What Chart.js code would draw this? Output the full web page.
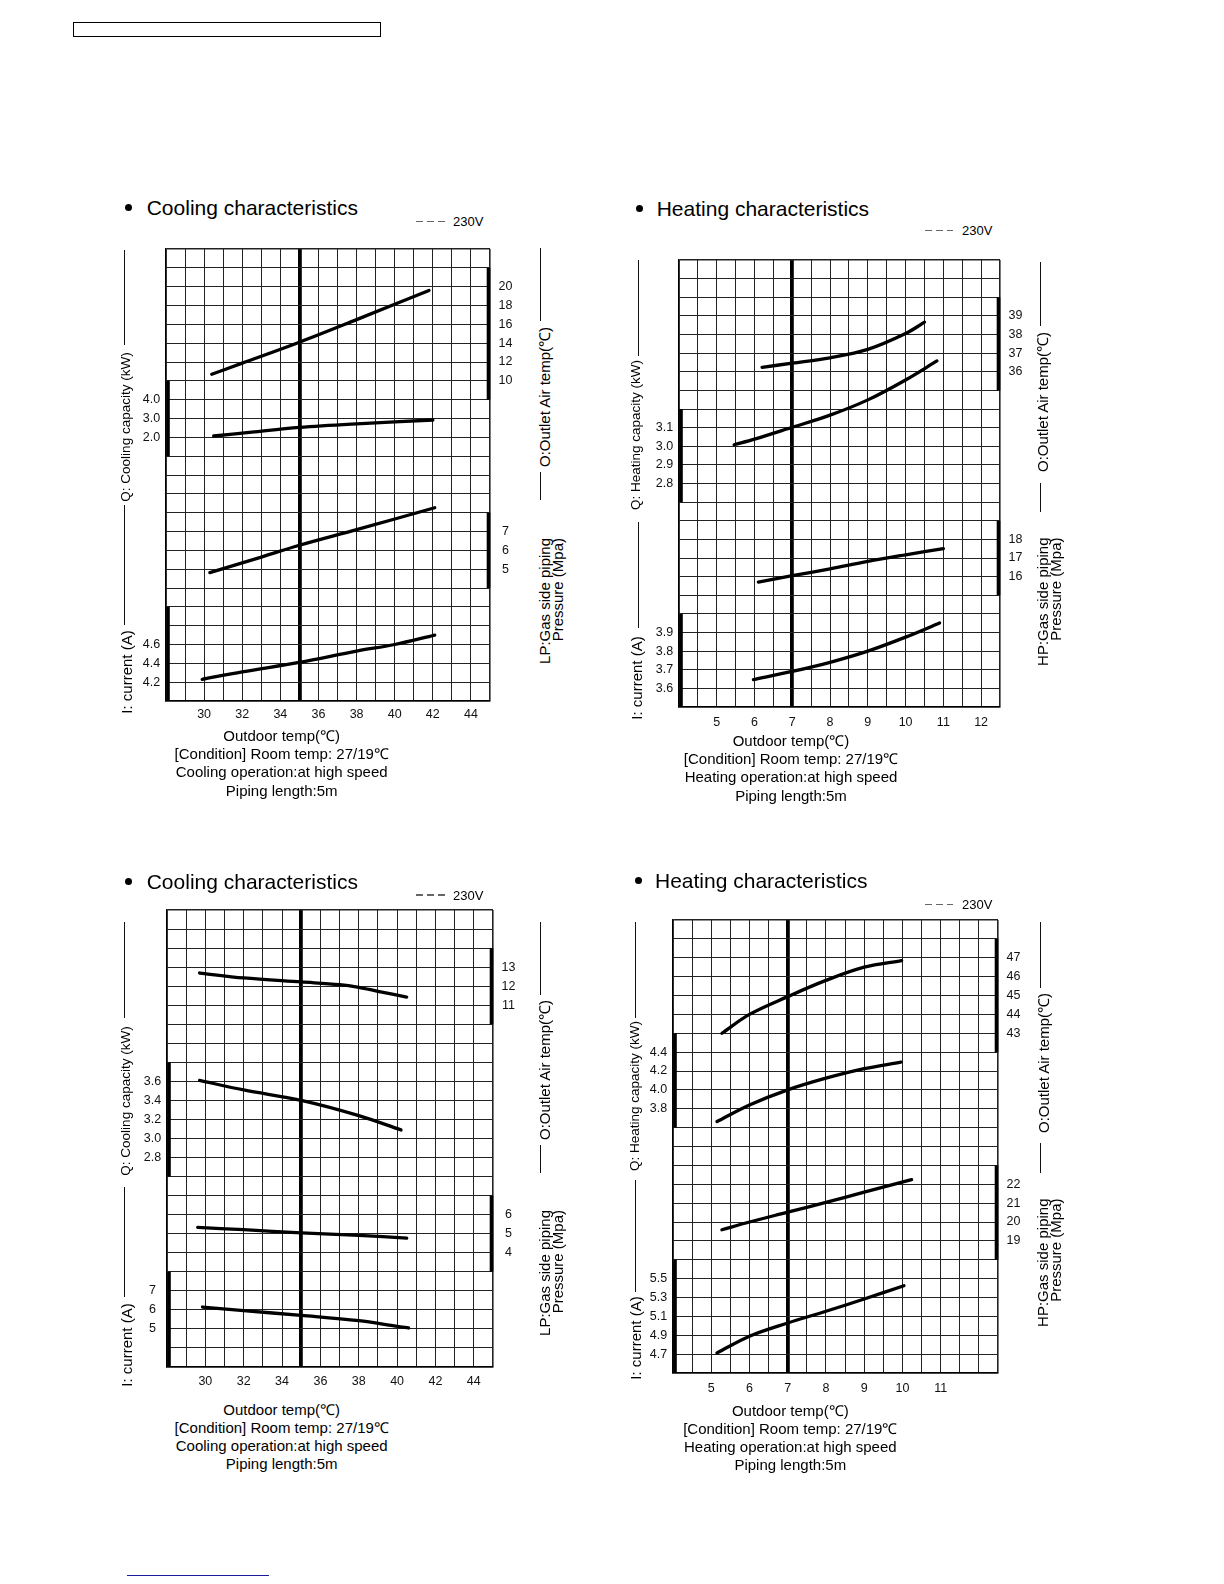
<!DOCTYPE html>
<html>
<head>
<meta charset="utf-8">
<script src="https://cdn.jsdelivr.net/npm/chart.js@4.4.1/dist/chart.umd.min.js"></script>
<style>
  html, body { margin:0; padding:0; background:#fff; }
  body { width:1224px; height:1584px; position:relative; overflow:hidden;
         font-family:"Liberation Sans", Arial, Helvetica, sans-serif; color:#000; }
</style>
</head>
<body>
<script>
// ---------------- DATA ----------------
// Chart 1: Cooling characteristics (top)
const c1TempTicks   = [30, 32, 34, 36, 38, 40, 42, 44];
const c1OutletX     = [30.4, 32, 35, 38, 41.8];
const c1OutletY     = [10.7, 11.88, 14.1, 16.5, 19.6];
const c1CapX        = [30.5, 32.5, 35, 38, 42];
const c1CapY        = [2.07, 2.28, 2.53, 2.72, 2.92];
const c1PressX      = [30.3, 33, 35, 38, 42.1];
const c1PressY      = [4.82, 5.64, 6.27, 7.1, 8.26];
const c1CurX        = [29.9, 32, 35, 38, 40, 42.1];
const c1CurY        = [4.23, 4.31, 4.41, 4.53, 4.60, 4.70];
const c1OutletTicks = [10, 12, 14, 16, 18, 20];
const c1CapTicks    = [2.0, 3.0, 4.0];
const c1PressTicks  = [5, 6, 7];
const c1CurTicks    = [4.2, 4.4, 4.6];

// Chart 2: Heating characteristics (top)
const c2TempTicks   = [5, 6, 7, 8, 9, 10, 11, 12];
const c2OutletX     = [6.2, 7, 8, 9, 10, 10.5];
const c2OutletY     = [36.24, 36.46, 36.75, 37.2, 38.05, 38.66];
const c2CapX        = [5.46, 6, 7, 8, 9, 10, 10.83];
const c2CapY        = [3.008, 3.038, 3.102, 3.167, 3.249, 3.356, 3.458];
const c2PressX      = [6.1, 7, 8, 9, 10, 11];
const c2PressY      = [15.71, 16.05, 16.42, 16.82, 17.17, 17.5];
const c2CurX        = [5.97, 7, 8, 9, 10, 10.9];
const c2CurY        = [3.647, 3.691, 3.74, 3.80, 3.875, 3.951];
const c2OutletTicks = [36, 37, 38, 39];
const c2CapTicks    = [2.8, 2.9, 3.0, 3.1];
const c2PressTicks  = [16, 17, 18];
const c2CurTicks    = [3.6, 3.7, 3.8, 3.9];

// Chart 3: Cooling characteristics (bottom)
const c3TempTicks   = [30, 32, 34, 36, 38, 40, 42, 44];
const c3OutletX     = [29.7, 32, 35, 37, 38, 39, 40.5];
const c3OutletY     = [12.69, 12.43, 12.22, 12.08, 11.94, 11.73, 11.43];
const c3CapX        = [29.7, 32, 35, 38, 40.2];
const c3CapY        = [3.61, 3.51, 3.40, 3.24, 3.09];
const c3PressX      = [29.6, 32, 35, 38, 40.5];
const c3PressY      = [5.33, 5.21, 5.04, 4.91, 4.77];
const c3CurX        = [29.85, 32, 35, 38, 40, 40.6];
const c3CurY        = [6.15, 5.96, 5.71, 5.43, 5.13, 5.05];
const c3OutletTicks = [11, 12, 13];
const c3CapTicks    = [2.8, 3.0, 3.2, 3.4, 3.6];
const c3PressTicks  = [4, 5, 6];
const c3CurTicks    = [5, 6, 7];

// Chart 4: Heating characteristics (bottom)
const c4TempTicks   = [5, 6, 7, 8, 9, 10, 11];
const c4OutletX     = [5.28, 6, 7, 8, 9, 9.98];
const c4OutletY     = [43.0, 44.0, 44.94, 45.8, 46.5, 46.85];
const c4CapX        = [5.15, 6, 7, 8, 9, 9.96];
const c4CapY        = [3.664, 3.84, 4.0, 4.124, 4.225, 4.294];
const c4PressX      = [5.28, 6, 7, 8, 9, 10.24];
const c4PressY      = [19.59, 20.0, 20.52, 21.04, 21.58, 22.24];
const c4CurX        = [5.15, 6, 7, 8, 9, 10.04];
const c4CurY        = [4.712, 4.89, 5.03, 5.154, 5.284, 5.424];
const c4OutletTicks = [43, 44, 45, 46, 47];
const c4CapTicks    = [3.8, 4.0, 4.2, 4.4];
const c4PressTicks  = [19, 20, 21, 22];
const c4CurTicks    = [4.7, 4.9, 5.1, 5.3, 5.5];

// ---------------- CHARTS ----------------
Chart.defaults.font.family = '"Liberation Sans", Arial, Helvetica, sans-serif';
Chart.defaults.color = '#111';

const near = (a, b) => Math.abs(a - b) < 1e-6;

function buildChart(cfg) {
  const padL = 45, padR = 45, padT = 20, padB = 32;
  const cw = cfg.W + padL + padR, ch = cfg.H + padT + padB;
  const cv = document.createElement('canvas');
  cv.width = cw; cv.height = ch;
  cv.style.cssText = 'position:absolute;left:' + (cfg.L - padL) + 'px;top:' + (cfg.T - padT) +
                     'px;width:' + cw + 'px;height:' + ch + 'px;';
  document.body.appendChild(cv);

  const scales = {
    x: {
      type: 'linear', position: 'bottom', min: cfg.xMin, max: cfg.xMax,
      afterFit: s => { s.height = padB; },
      ticks: {
        stepSize: cfg.xStep, autoSkip: false, maxRotation: 0, minRotation: 0,
        padding: cfg.xPad, color: '#111', font: { size: 12.5 },
        callback: v => cfg.xTicks.some(t => near(t, v)) ? String(v) : ''
      },
      grid: {
        drawTicks: false,
        color: c => (c.tick && near(c.tick.value, cfg.bold)) ? '#000' : '#222',
        lineWidth: c => {
          if (!c.tick) return 1;
          const v = c.tick.value;
          if (near(v, cfg.bold)) return 3.8;
          if (near(v, cfg.xMin) || near(v, cfg.xMax)) return 1.6;
          return 1;
        }
      },
      border: { display: true, color: '#000', width: 1.6 }
    },
    g: {
      type: 'linear', position: 'left', min: 0, max: 24,
      afterFit: s => { s.width = 0; },
      ticks: { display: false, stepSize: 1 },
      grid: {
        drawTicks: false, color: '#222',
        lineWidth: c => (c.tick && (c.tick.value === 0 || c.tick.value === 24)) ? 1.6 : 1
      },
      border: { display: true, color: '#000', width: 1.6 }
    }
  };
  cfg.series.forEach(s => {
    scales[s.id] = { type: 'linear', display: false, min: s.min, max: s.max };
  });

  const datasets = cfg.series.map(s => ({
    data: s.x.map((xv, i) => ({ x: xv, y: s.y[i] })),
    yAxisID: s.id,
    borderColor: '#000', borderWidth: 3.3,
    pointRadius: 0, pointHoverRadius: 0,
    tension: 0.35,
    fill: false, borderCapStyle: 'round', borderJoinStyle: 'round'
  }));

  const sidePlugin = {
    id: 'sideScales',
    afterDraw(chart) {
      const c = chart.ctx, a = chart.chartArea;
      c.save();
      c.font = '12.5px "Liberation Sans", Arial, sans-serif';
      c.textAlign = 'center';
      c.textBaseline = 'middle';
      cfg.series.forEach(s => {
        const sc = chart.scales[s.id];
        const lx = s.side === 'left' ? a.left - 14.5 : a.right + 15.5;
        c.fillStyle = '#111';
        s.ticks.forEach(v => c.fillText(v.toFixed(s.dec), lx, sc.getPixelForValue(v)));
        const yTop = sc.getPixelForValue(s.bar[1]);
        const yBot = sc.getPixelForValue(s.bar[0]);
        const bx = s.side === 'left' ? a.left + 2 : a.right - 1.5;
        c.fillStyle = '#000';
        c.fillRect(bx - 1.8, yTop, 3.6, yBot - yTop);
      });
      c.restore();
    }
  };

  new Chart(cv, {
    type: 'line',
    data: { datasets },
    options: {
      responsive: false, maintainAspectRatio: false, animation: false, events: [],
      layout: { padding: { left: padL, right: padR, top: padT, bottom: 0 } },
      plugins: { legend: { display: false }, tooltip: { enabled: false } },
      scales
    },
    plugins: [sidePlugin]
  });
}

buildChart({ L: 166, T: 249, W: 324, H: 452, xMin: 28, xMax: 45, xStep: 1, bold: 35, xTicks: c1TempTicks, xPad: 6,
  series: [
    { id: 'o', x: c1OutletX, y: c1OutletY, min: -24, max: 24, side: 'right', ticks: c1OutletTicks, dec: 0, bar: [8, 22] },
    { id: 'q', x: c1CapX, y: c1CapY, min: -12, max: 12, side: 'left', ticks: c1CapTicks, dec: 1, bar: [1, 5] },
    { id: 'p', x: c1PressX, y: c1PressY, min: -2, max: 22, side: 'right', ticks: c1PressTicks, dec: 0, bar: [4, 8] },
    { id: 'i', x: c1CurX, y: c1CurY, min: 4.0, max: 8.8, side: 'left', ticks: c1CurTicks, dec: 1, bar: [4.0, 5.0] }
  ] });

buildChart({ L: 679, T: 260, W: 321, H: 447, xMin: 4, xMax: 12.5, xStep: 0.5, bold: 7, xTicks: c2TempTicks, xPad: 8,
  series: [
    { id: 'o', x: c2OutletX, y: c2OutletY, min: 18, max: 42, side: 'right', ticks: c2OutletTicks, dec: 0, bar: [35, 40] },
    { id: 'q', x: c2CapX, y: c2CapY, min: 1.6, max: 4.0, side: 'left', ticks: c2CapTicks, dec: 1, bar: [2.7, 3.2] },
    { id: 'p', x: c2PressX, y: c2PressY, min: 9, max: 33, side: 'right', ticks: c2PressTicks, dec: 0, bar: [15, 19] },
    { id: 'i', x: c2CurX, y: c2CurY, min: 3.5, max: 5.9, side: 'left', ticks: c2CurTicks, dec: 1, bar: [3.5, 4.0] }
  ] });

buildChart({ L: 167, T: 910, W: 326, H: 457, xMin: 28, xMax: 45, xStep: 1, bold: 35, xTicks: c3TempTicks, xPad: 7,
  series: [
    { id: 'o', x: c3OutletX, y: c3OutletY, min: -8, max: 16, side: 'right', ticks: c3OutletTicks, dec: 0, bar: [10, 14] },
    { id: 'q', x: c3CapX, y: c3CapY, min: 0.6, max: 5.4, side: 'left', ticks: c3CapTicks, dec: 1, bar: [2.6, 3.8] },
    { id: 'p', x: c3PressX, y: c3PressY, min: -2, max: 22, side: 'right', ticks: c3PressTicks, dec: 0, bar: [3, 7] },
    { id: 'i', x: c3CurX, y: c3CurY, min: 3, max: 27, side: 'left', ticks: c3CurTicks, dec: 0, bar: [3, 8] }
  ] });

buildChart({ L: 673, T: 920, W: 325, H: 453, xMin: 4, xMax: 12.5, xStep: 0.5, bold: 7, xTicks: c4TempTicks, xPad: 8,
  series: [
    { id: 'o', x: c4OutletX, y: c4OutletY, min: 25, max: 49, side: 'right', ticks: c4OutletTicks, dec: 0, bar: [42, 48] },
    { id: 'q', x: c4CapX, y: c4CapY, min: 1.0, max: 5.8, side: 'left', ticks: c4CapTicks, dec: 1, bar: [3.6, 4.6] },
    { id: 'p', x: c4PressX, y: c4PressY, min: 12, max: 36, side: 'right', ticks: c4PressTicks, dec: 0, bar: [18, 23] },
    { id: 'i', x: c4CurX, y: c4CurY, min: 4.5, max: 9.3, side: 'left', ticks: c4CurTicks, dec: 1, bar: [4.5, 5.7] }
  ] });

// ---------------- TEXT / DECORATION ----------------
function el(css) {
  const d = document.createElement('div');
  d.style.cssText = css;
  document.body.appendChild(d);
  return d;
}
function txt(str, x, cy, size, align) {
  const tr = align === 'center' ? 'transform:translateX(-50%);' : '';
  const d = el('position:absolute;white-space:nowrap;left:' + x + 'px;top:' + (cy - size / 2) +
               'px;font-size:' + size + 'px;line-height:' + size + 'px;' + tr);
  d.textContent = str;
}
function rtxt(str, cx, cy, size) {
  const d = el('position:absolute;white-space:nowrap;left:' + cx + 'px;top:' + cy +
               'px;font-size:' + size + 'px;line-height:' + size + 'px;transform:translate(-50%,-50%) rotate(-90deg);');
  d.textContent = str;
}
function rtxt2(l1, l2, cx, topY, len, size, lh) {
  const d = el('position:absolute;white-space:nowrap;text-align:right;width:' + len + 'px;left:' + cx + 'px;top:' +
               (topY + len / 2) + 'px;font-size:' + size + 'px;line-height:' + lh +
               'px;transform:translate(-50%,-50%) rotate(-90deg);');
  d.appendChild(document.createTextNode(l1));
  d.appendChild(document.createElement('br'));
  d.appendChild(document.createTextNode(l2));
}
function vline(x, y1, y2) {
  el('position:absolute;background:#111;width:1px;left:' + (x - 0.5) + 'px;top:' + y1 + 'px;height:' + (y2 - y1) + 'px;');
}
function bullet(cx, cy) {
  el('position:absolute;width:7px;height:7px;border-radius:50%;background:#000;left:' + (cx - 3.5) + 'px;top:' + (cy - 3.5) + 'px;');
}
function legend(x1, x2, cy, textLeft) {
  el('position:absolute;left:' + x1 + 'px;top:' + (cy - 0.75) + 'px;width:' + (x2 - x1) +
     'px;height:1.5px;background:repeating-linear-gradient(to right,#666 0 7px,transparent 7px 11px);');
  txt('230V', textLeft, cy, 13, 'left');
}

// header box and footer line
el('position:absolute;left:73px;top:22px;width:306px;height:13px;border:1.5px solid #000;');
el('position:absolute;left:127px;top:1574.5px;width:142px;height:1.5px;background:#1a1a9a;');

// Chart 1 texts
bullet(128, 207.5); txt('Cooling characteristics', 146.7, 207.5, 21, 'left');
legend(416, 445, 221.7, 453);
vline(124.5, 250, 345); rtxt('Q: Cooling capacity (kW)', 126, 426.5, 13.5);
vline(124.5, 505, 625); rtxt('I: current (A)', 126, 671.5, 15);
vline(540, 248, 321); rtxt('O:Outlet Air temp(℃)', 544, 396.5, 15);
vline(540, 472, 500); rtxt2('LP:Gas side piping', 'Pressure (Mpa)', 550.5, 538, 132, 15, 12.5);
txt('Outdoor temp(℃)', 281.7, 735, 15, 'center');
txt('[Condition] Room temp: 27/19℃', 281.7, 753.3, 15, 'center');
txt('Cooling operation:at high speed', 281.7, 771.7, 15, 'center');
txt('Piping length:5m', 281.7, 790, 15, 'center');

// Chart 2 texts
bullet(639, 208.3); txt('Heating characteristics', 656.7, 208.3, 21, 'left');
legend(925, 953, 230.7, 962);
vline(638, 260, 356); rtxt('Q: Heating capacity (kW)', 636, 435, 13.5);
vline(638, 522, 628); rtxt('I: current (A)', 636, 677.5, 15);
vline(1040, 262, 326); rtxt('O:Outlet Air temp(℃)', 1041.5, 401.5, 15);
vline(1040, 483, 512); rtxt2('HP:Gas side piping', 'Pressure (Mpa)', 1048.75, 537, 133, 15, 12.5);
txt('Outdoor temp(℃)', 791, 740, 15, 'center');
txt('[Condition] Room temp: 27/19℃', 791, 758.3, 15, 'center');
txt('Heating operation:at high speed', 791, 776.7, 15, 'center');
txt('Piping length:5m', 791, 795, 15, 'center');

// Chart 3 texts
bullet(128, 881.3); txt('Cooling characteristics', 146.7, 881.3, 21, 'left');
legend(416, 445, 895, 453);
vline(124, 922, 1018); rtxt('Q: Cooling capacity (kW)', 125.5, 1100.5, 13.5);
vline(124, 1187, 1297); rtxt('I: current (A)', 125.5, 1344.5, 15);
vline(540, 922, 995); rtxt('O:Outlet Air temp(℃)', 543.7, 1070, 15);
vline(540, 1145, 1173); rtxt2('LP:Gas side piping', 'Pressure (Mpa)', 550.5, 1210, 132, 15, 12.5);
txt('Outdoor temp(℃)', 281.7, 1409, 15, 'center');
txt('[Condition] Room temp: 27/19℃', 281.7, 1427.3, 15, 'center');
txt('Cooling operation:at high speed', 281.7, 1445.7, 15, 'center');
txt('Piping length:5m', 281.7, 1463.5, 15, 'center');

// Chart 4 texts
bullet(638, 880.7); txt('Heating characteristics', 655, 880.7, 21, 'left');
legend(925, 953, 904.3, 962);
vline(635, 922, 1018); rtxt('Q: Heating capacity (kW)', 635, 1095.5, 13.5);
vline(635, 1180, 1292); rtxt('I: current (A)', 635, 1337.5, 15);
vline(1040, 922, 988); rtxt('O:Outlet Air temp(℃)', 1042.5, 1062.5, 15);
vline(1040, 1143, 1173); rtxt2('HP:Gas side piping', 'Pressure (Mpa)', 1048.75, 1198, 135, 15, 12.5);
txt('Outdoor temp(℃)', 790.3, 1410, 15, 'center');
txt('[Condition] Room temp: 27/19℃', 790.3, 1428.3, 15, 'center');
txt('Heating operation:at high speed', 790.3, 1446.7, 15, 'center');
txt('Piping length:5m', 790.3, 1464, 15, 'center');
</script>
</body>
</html>
